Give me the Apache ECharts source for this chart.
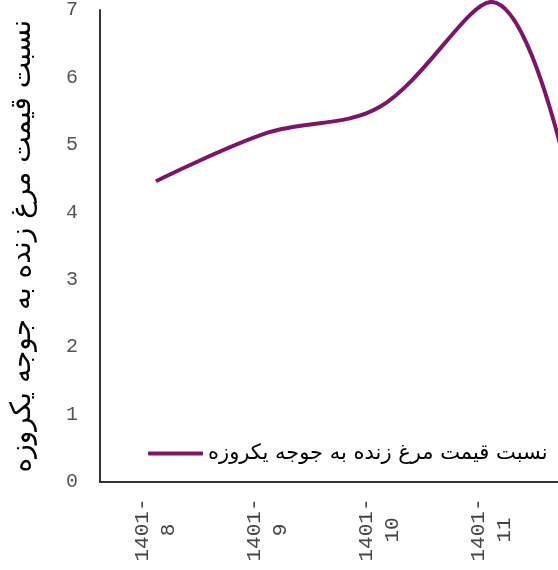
<!DOCTYPE html>
<html>
<head>
<meta charset="utf-8">
<script src="https://cdn.jsdelivr.net/npm/echarts@6/dist/echarts.min.js"></script>
<style>
  html, body { margin: 0; padding: 0; background: #fff; overflow: hidden; }
  /* the plot runs past the right edge of the window, so the canvas is wider */
  #chart { width: 700px; height: 570px; }
</style>
</head>
<body>
<div id="chart"></div>
<script>
const months = ['1401-8', '1401-9', '1401-10', '1401-11', '1401-12'];
const ratio = [4.46, 5.18, 5.56, 7.12, 2.0];
const seriesName = 'نسبت قیمت مرغ زنده به جوجه یکروزه';
const yTicks = [0, 1, 2, 3, 4, 5, 6, 7];

const chart = echarts.init(document.getElementById('chart'));

chart.setOption({
    animation: false,
    grid: {
        left: 100,
        right: 41,
        top: 3,
        bottom: 88
    },
    legend: {
        data: [seriesName],
        left: 143,
        top: 438,
        icon: 'roundRect',
        itemWidth: 55,
        itemHeight: 4,
        itemGap: 4,
        textStyle: {
            fontFamily: 'DejaVu Sans',
            fontSize: 21,
            color: '#000'
        }
    },
    xAxis: {
        type: 'category',
        data: months,
        boundaryGap: true,
        axisLine: { lineStyle: { color: '#333', width: 2 } },
        axisTick: { show: false },
        axisLabel: {
            rotate: 90,
            align: 'center',
            margin: 48,
            fontFamily: 'Liberation Mono',
            fontSize: 21,
            color: '#444',
            lineHeight: 26,
            formatter: v => v.replace('-', '-\n')
        }
    },
    yAxis: {
        type: 'value',
        min: yTicks[0],
        max: yTicks[yTicks.length - 1],
        interval: 1,
        name: seriesName,
        nameLocation: 'middle',
        nameGap: 63,
        nameTextStyle: {
            fontFamily: 'DejaVu Sans',
            fontSize: 28,
            color: '#000'
        },
        axisLine: { show: true, lineStyle: { color: '#333', width: 2 } },
        axisTick: { show: false },
        splitLine: { show: false },
        axisLabel: {
            margin: 22,
            fontFamily: 'Liberation Mono',
            fontSize: 20,
            color: '#555'
        }
    },
    series: [
        {
            name: seriesName,
            type: 'line',
            data: ratio,
            smooth: 0.35,
            clip: false,
            showSymbol: false,
            lineStyle: { color: '#7b1668', width: 4 },
            itemStyle: { color: '#7b1668' }
        }
    ]
});
</script>
</body>
</html>
